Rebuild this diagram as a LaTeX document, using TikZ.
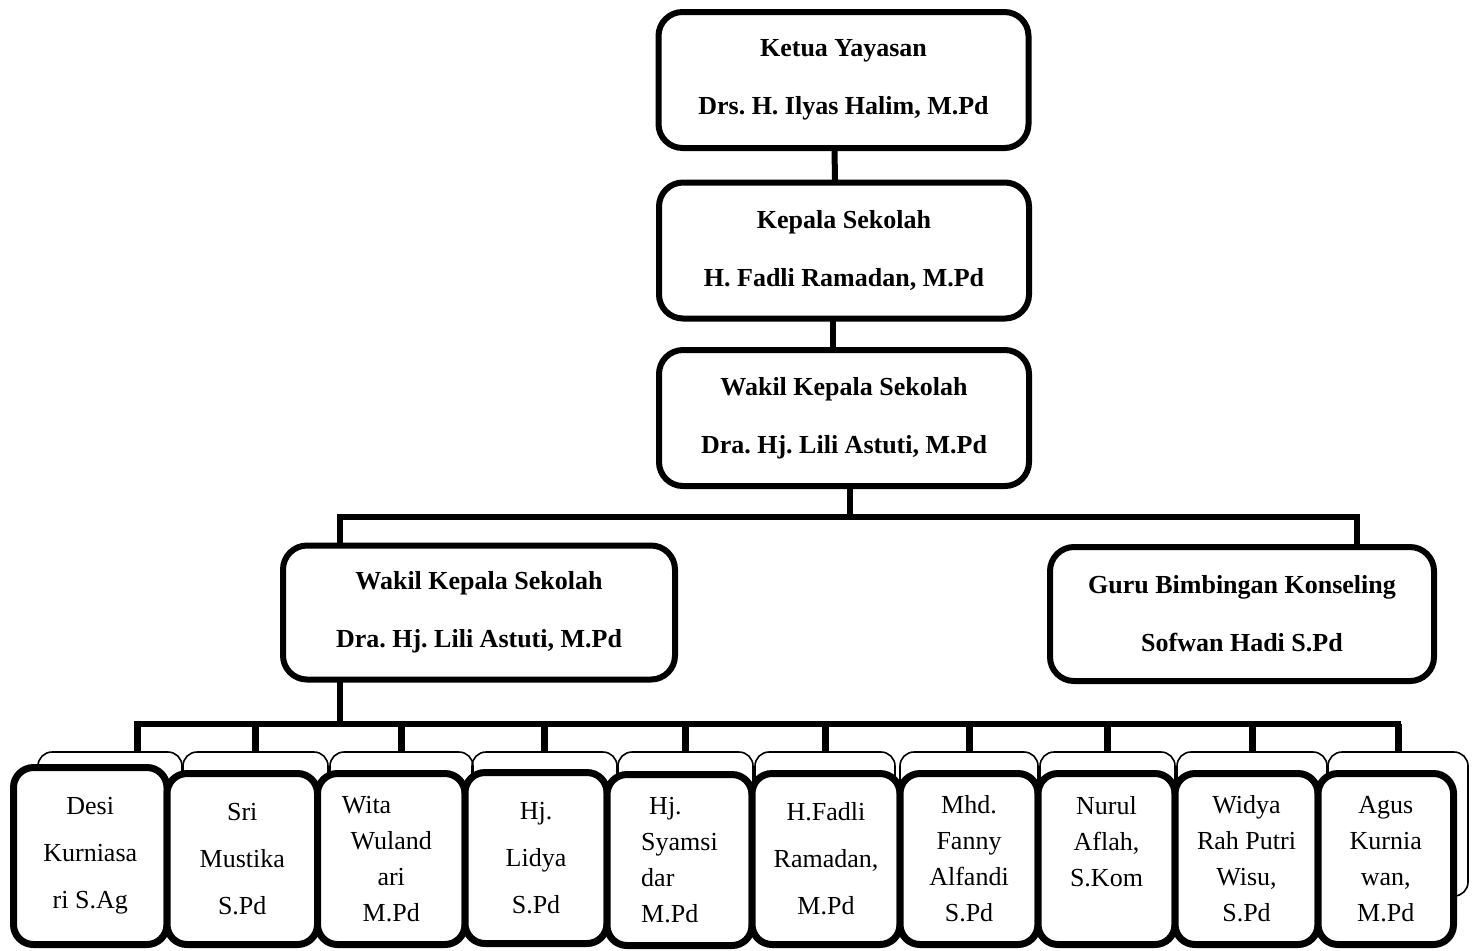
\documentclass[tikz,border=0pt]{standalone}
\usepackage{fontspec}
\setmainfont{Liberation Serif}
\frenchspacing
\usetikzlibrary{positioning,calc}

\begin{document}
\begin{tikzpicture}[
  x=0.5pt, y=-0.5pt,
  topbox/.style={draw, line width=3pt, rounded corners=12pt, align=center, font=\fontsize{13}{15}\selectfont\bfseries, minimum width=185pt, minimum height=68pt},
  midbox/.style={draw, line width=3pt, rounded corners=12pt, align=center, font=\fontsize{13}{15}\selectfont\bfseries, minimum height=67pt},
  staff/.style={draw, fill=white, line width=3.5pt, rounded corners=10pt, align=center, font=\fontsize{13}{18}\selectfont, minimum height=85.5pt, inner sep=2pt},
  staffbg/.style={draw, line width=0.8pt, rounded corners=7pt, minimum height=72pt},
  conn/.style={line width=3pt, line cap=rect},
  drop/.style={line width=3.5pt}
]
\useasboundingbox (0,0) rectangle (1476,950);

\node[topbox] (ketua) at (843.5,80) {Ketua Yayasan\\[14pt]Drs. H. Ilyas Halim, M.Pd};
\node[topbox] (kepala) at (844,250.5) {Kepala Sekolah\\[14pt]H. Fadli Ramadan, M.Pd};
\node[topbox] (wakil) at (844,418) {Wakil Kepala Sekolah\\[14pt]Dra. Hj. Lili Astuti, M.Pd};
\node[midbox, minimum width=196pt] (wakilb) at (479,612.5) {Wakil Kepala Sekolah\\[14pt]Dra. Hj. Lili Astuti, M.Pd};
\node[midbox, minimum width=192pt] (guru) at (1242,614) {Guru Bimbingan Konseling\\[14pt]Sofwan Hadi S.Pd};

\node[staffbg, minimum width=72pt] (desibg) at (110,824) {};
\node[staffbg, minimum width=72.5pt] (sribg) at (255.5,824) {};
\node[staffbg, minimum width=71.5pt] (witabg) at (401.5,824) {};
\node[staffbg, minimum width=72.5pt] (lidyabg) at (544.5,824) {};
\node[staffbg, minimum width=67.5pt] (syamsibg) at (685.5,824) {};
\node[staffbg, minimum width=70pt] (fadlibg) at (825,824) {};
\node[staffbg, minimum width=69pt] (mhdbg) at (969,824) {};
\node[staffbg, minimum width=67.5pt] (nurulbg) at (1107.5,824) {};
\node[staffbg, minimum width=75pt] (widyabg) at (1252,824) {};
\node[staffbg, minimum width=70pt] (agusbg) at (1398,824) {};

\node[staff, minimum width=76.75pt, minimum height=88.5pt] (desi) at (90.25,856) {Desi\\[5.5pt]Kurniasa\\[5.5pt]ri S.Ag};
\node[staff, minimum width=75.25pt] (sri) at (242.25,859) {Sri\\[5.5pt]Mustika\\[5.5pt]S.Pd};
\node[staff, minimum width=73.75pt] (wita) at (391.25,859) {Wita\phantom{Wita}\\Wuland\\ari\\M.Pd};
\node[staff, minimum width=71pt] (lidya) at (536,858) {Hj.\\[5.5pt]Lidya\\[5.5pt]S.Pd};
\node[staff, minimum width=72.5pt, align=left] (syamsi) at (679.5,860) {\hspace*{4pt}Hj.\\Syamsi\\dar\\M.Pd};
\node[staff, minimum width=74pt] (fadli) at (826,859) {H.Fadli\\[5.5pt]Ramadan,\\[5.5pt]M.Pd};
\node[staff, minimum width=69pt] (mhd) at (969,859) {Mhd.\\Fanny\\Alfandi\\S.Pd};
\node[staff, minimum width=68.5pt] (nurul) at (1106.5,859) {Nurul\\Aflah,\\S.Kom\\\mbox{}};
\node[staff, minimum width=71.5pt] (widya) at (1246.5,859) {Widya\\Rah Putri\\Wisu,\\S.Pd};
\node[staff, minimum width=67.75pt] (agus) at (1385.75,859) {Agus\\Kurnia\\wan,\\M.Pd};

\coordinate (bar1) at (850,517);
\coordinate (bar2) at (340,724);
\coordinate (d1) at ([xshift=13.5pt]desibg.north);

\draw[conn] ([xshift=-4.5pt]ketua.south) -- ([xshift=-4.5pt]kepala.north);
\draw[conn] ([xshift=-5.5pt]kepala.south) -- ([xshift=-5.5pt]wakil.north);
\draw[conn] ([xshift=3pt]wakil.south) -- (bar1);
\draw[conn] ([xshift=-69.5pt]wakilb.north) |- (bar1) -| ([xshift=57.5pt]guru.north);
\draw[conn] ([xshift=-69.5pt]wakilb.south) -- (bar2);
\draw[conn] (d1 |- bar2) -- (agusbg.north |- bar2);

\draw[drop] (d1) -- (d1 |- bar2);
\draw[drop] (sribg.north) -- (sribg.north |- bar2);
\draw[drop] (witabg.north) -- (witabg.north |- bar2);
\draw[drop] (lidyabg.north) -- (lidyabg.north |- bar2);
\draw[drop] (syamsibg.north) -- (syamsibg.north |- bar2);
\draw[drop] (fadlibg.north) -- (fadlibg.north |- bar2);
\draw[drop] (mhdbg.north) -- (mhdbg.north |- bar2);
\draw[drop] (nurulbg.north) -- (nurulbg.north |- bar2);
\draw[drop] (widyabg.north) -- (widyabg.north |- bar2);
\draw[drop] (agusbg.north) -- (agusbg.north |- bar2);
\end{tikzpicture}
\end{document}
